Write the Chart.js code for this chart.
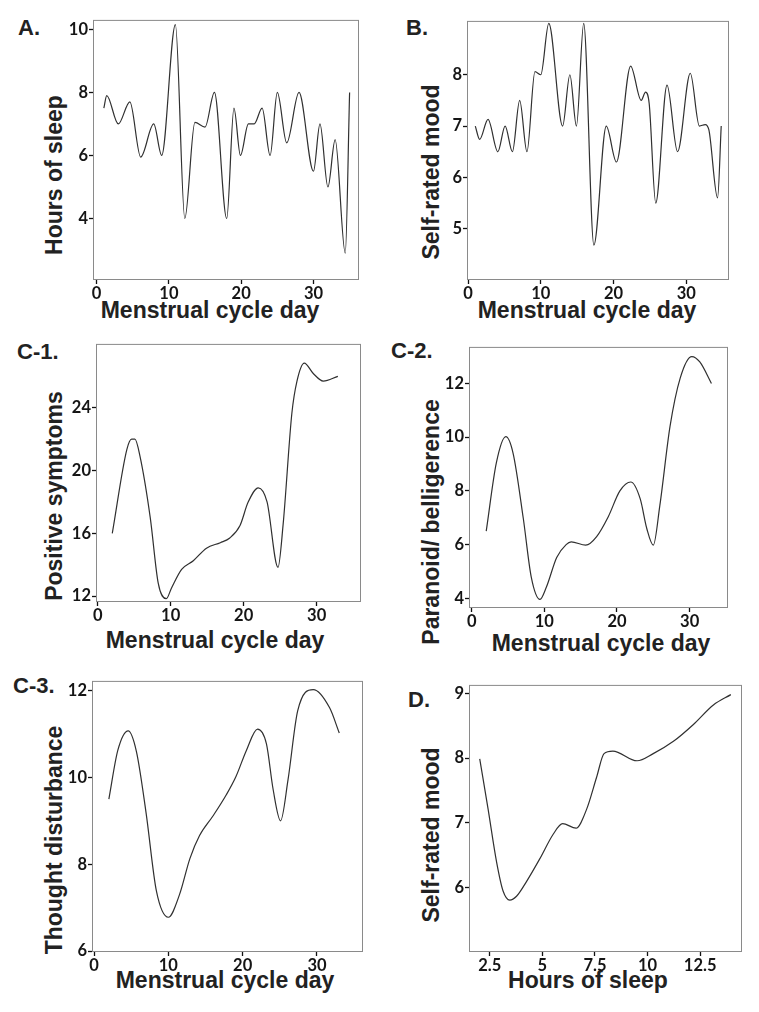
<!DOCTYPE html>
<html>
<head>
<meta charset="utf-8">
<script src="https://cdn.jsdelivr.net/npm/chart.js@4.4.1/dist/chart.umd.min.js"></script>
<style>
  body { margin: 0; width: 759px; height: 1012px; background: #fff; position: relative; overflow: hidden;
         font-family: "Liberation Sans", Arial, sans-serif; color: #222; }
  .panel { position: absolute; }
  .lbl { position: absolute; font-weight: bold; font-size: 22px; line-height: 1; white-space: nowrap; }
  .xt { position: absolute; font-weight: bold; font-size: 23px; line-height: 1; white-space: nowrap; transform: translateX(-50%); }
  .yt { position: absolute; font-weight: bold; font-size: 23px; line-height: 1; white-space: nowrap; transform: translate(-50%, -50%) rotate(-90deg); }
</style>
</head>
<body>

<div class="lbl" style="left:18px;top:17px">A.</div>
<div class="lbl" style="left:406px;top:17px">B.</div>
<div class="lbl" style="left:17px;top:341px">C-1.</div>
<div class="lbl" style="left:391px;top:340px">C-2.</div>
<div class="lbl" style="left:13px;top:675px">C-3.</div>
<div class="lbl" style="left:408px;top:689px">D.</div>

<div class="xt" style="left:210px;top:299px">Menstrual cycle day</div>
<div class="xt" style="left:587px;top:299px">Menstrual cycle day</div>
<div class="xt" style="left:215px;top:629px">Menstrual cycle day</div>
<div class="xt" style="left:601px;top:632px">Menstrual cycle day</div>
<div class="xt" style="left:225px;top:969px">Menstrual cycle day</div>
<div class="xt" style="left:588px;top:969px">Hours of sleep</div>

<div class="yt" style="left:54px;top:175px">Hours of sleep</div>
<div class="yt" style="left:431px;top:172px">Self-rated mood</div>
<div class="yt" style="left:54px;top:496px">Positive symptoms</div>
<div class="yt" style="left:431px;top:522px">Paranoid/ belligerence</div>
<div class="yt" style="left:54px;top:840px">Thought disturbance</div>
<div class="yt" style="left:431px;top:835px">Self-rated mood</div>

<script>
// A. hours of sleep by cycle day
const dayA = [1, 1.4, 3, 4.6, 6.1, 7.9, 9.0, 10.9, 12.2, 13.6, 15.0, 16.3, 18.0, 19.0, 19.9, 21.0, 21.8, 22.9, 24.0, 25.0, 26.3, 28.0, 30.0, 30.9, 32.0, 33.0, 34.4, 35.0];
const sleepA = [7.5, 7.9, 7.0, 7.7, 5.95, 7.0, 6.0, 10.15, 4.0, 7.05, 6.9, 8.0, 4.0, 7.5, 6.0, 7.0, 7.0, 7.5, 6.0, 8.0, 6.4, 8.0, 5.5, 7.0, 5.0, 6.5, 2.9, 8.0];

// B. self-rated mood by cycle day
const dayB = [1, 1.6, 2.75, 4.1, 5.1, 6.1, 7.1, 8.1, 9.2, 10.0, 11.1, 13.0, 14.0, 14.9, 15.9, 17.3, 19.0, 20.4, 22.35, 23.8, 24.4, 24.9, 25.8, 27.35, 28.8, 30.55, 31.8, 32.6, 33.1, 34.3, 34.8];
const moodB = [7.0, 6.74, 7.13, 6.5, 7.0, 6.5, 7.5, 6.5, 8.06, 8.0, 9.0, 7.0, 8.0, 7.0, 9.0, 4.68, 7.0, 6.3, 8.17, 7.5, 7.66, 7.44, 5.5, 7.8, 6.5, 8.03, 7.0, 7.03, 6.93, 5.6, 7.0];

// C-1. positive symptoms
const dayC1 = [2, 4.0, 4.65, 5.1, 5.8, 7.2, 8.3, 9.4, 10.1, 11.5, 13.1, 14.9, 16.8, 18.1, 19.5, 20.6, 22.0, 23.2, 24.7, 25.4, 26.6, 27.3, 28.3, 29.5, 30.9, 32.9];
const symC1 = [16.0, 21.35, 22.0, 22.0, 20.9, 17.0, 12.8, 11.83, 12.5, 13.7, 14.25, 15.05, 15.4, 15.7, 16.5, 17.97, 18.9, 18.0, 13.83, 16.55, 23.65, 25.7, 26.85, 26.2, 25.7, 26.0];

// C-2. paranoid / belligerence
const dayC2 = [2, 3.4, 4.7, 5.7, 7.1, 8.2, 9.4, 10.3, 11.7, 13.0, 13.7, 15.7, 17.2, 18.8, 20.4, 21.9, 23.2, 24.1, 25.0, 25.9, 27.3, 28.7, 30.3, 31.4, 33.0];
const parC2 = [6.5, 9.05, 10.02, 9.4, 6.98, 4.79, 3.96, 4.43, 5.52, 6.0, 6.1, 5.98, 6.3, 7.04, 8.0, 8.33, 7.7, 6.6, 5.98, 7.46, 10.4, 12.2, 13.0, 12.8, 12.0];

// C-3. thought disturbance
const dayC3 = [2, 3.2, 4.6, 5.7, 7.0, 8.4, 10.0, 11.5, 12.9, 14.2, 16.0, 17.8, 19.1, 20.5, 22.0, 23.2, 24.1, 25.1, 26.1, 27.4, 29.5, 31.7, 33.0];
const thC3 = [9.5, 10.62, 11.07, 10.6, 9.19, 7.38, 6.78, 7.3, 8.13, 8.66, 9.11, 9.6, 10.02, 10.62, 11.11, 10.77, 9.72, 9.0, 9.94, 11.53, 12.02, 11.6, 11.02];

// D. mood vs hours of sleep
const hrsD = [2.02, 2.42, 2.82, 3.13, 3.45, 3.77, 4.25, 4.88, 5.52, 5.96, 6.6, 7.1, 7.58, 7.93, 8.35, 9.5, 10.27, 11.23, 12.18, 13.13, 13.96];
const moodD = [7.99, 7.21, 6.4, 5.95, 5.81, 5.87, 6.1, 6.45, 6.83, 6.99, 6.92, 7.21, 7.71, 8.07, 8.11, 7.96, 8.07, 8.26, 8.52, 8.82, 8.98];

const dayTicks = [0, 10, 20, 30];

const frame = {
  id: 'frame',
  afterDraw(chart) {
    const a = chart.chartArea, ctx = chart.ctx;
    ctx.save();
    ctx.strokeStyle = '#8a8a8a';
    ctx.lineWidth = 1;
    ctx.strokeRect(a.left + 0.5, a.top + 0.5, a.right - a.left - 1, a.bottom - a.top - 1);
    ctx.restore();
  }
};

function panel(box, xs, ys, xr, yr, xt, yt) {
  const wrap = document.createElement('div');
  wrap.className = 'panel';
  const W = box[2] - box[0] + 46, H = box[3] - box[1] + 36;
  wrap.style.left = (box[0] - 40) + 'px';
  wrap.style.top = (box[1] - 6) + 'px';
  const cv = document.createElement('canvas');
  cv.width = W; cv.height = H;
  wrap.appendChild(cv);
  document.body.appendChild(wrap);

  const tickFont = { family: 'Lato, "Open Sans", sans-serif', size: 16.5, weight: 'bold' };
  const axis = (range, ticks, side) => ({
    type: 'linear',
    min: range[0], max: range[1],
    afterBuildTicks: s => { s.ticks = ticks.map(v => ({ value: v })); },
    afterFit: s => { if (side === 'x') s.height = 30; else s.width = 40; },
    grid: { display: true, drawOnChartArea: false, drawTicks: true, tickLength: 4, tickColor: '#111', tickWidth: 1.3 },
    border: { display: false },
    ticks: { font: tickFont, color: '#151515', padding: side === 'x' ? 0 : 1, callback: v => String(v), autoSkip: false, maxRotation: 0 }
  });

  new Chart(cv, {
    type: 'scatter',
    data: {
      datasets: [{
        data: xs.map((x, i) => ({ x: x, y: ys[i] })),
        showLine: true,
        pointRadius: 0,
        borderColor: '#303030',
        borderWidth: 1.2,
        cubicInterpolationMode: 'monotone'
      }]
    },
    options: {
      responsive: false,
      animation: false,
      layout: { padding: { left: 0, top: 6, right: 6, bottom: 0 } },
      plugins: { legend: { display: false }, tooltip: { enabled: false } },
      scales: { x: axis(xr, xt, 'x'), y: axis(yr, yt, 'y') }
    },
    plugins: [frame]
  });
}

panel([93, 15, 359, 280], dayA, sleepA, [-0.5, 36.3], [2.05, 10.3], dayTicks, [4, 6, 8, 10]);
panel([467, 16, 729, 280], dayB, moodB, [-0.14, 35.87], [4.0, 9.05], dayTicks, [5, 6, 7, 8]);
panel([96, 339, 361, 602], dayC1, symC1, [-0.23, 36.07], [11.62, 28.07], dayTicks, [12, 16, 20, 24]);
panel([469, 342, 728, 608], dayC2, parC2, [-0.37, 35.28], [3.64, 13.36], dayTicks, [4, 6, 8, 10, 12]);
panel([92, 676, 363, 952], dayC3, thC3, [-0.27, 36.19], [5.98, 12.22], dayTicks, [6, 8, 10, 12]);
panel([469, 680, 742, 952], hrsD, moodD, [1.51, 14.49], [5.01, 9.13], [2.5, 5, 7.5, 10, 12.5], [6, 7, 8, 9]);
</script>
</body>
</html>
